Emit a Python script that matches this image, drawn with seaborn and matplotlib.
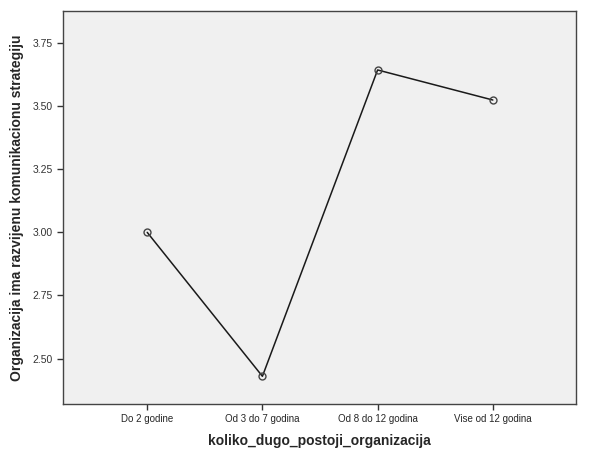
import pandas as pd
import matplotlib
matplotlib.use("Agg")
import matplotlib.pyplot as plt
import seaborn as sns

# Data
categories = ["Do 2 godine", "Od 3 do 7 godina", "Od 8 do 12 godina", "Vise od 12 godina"]
means = [3.00, 2.43, 3.643, 3.524]
y_ticks = [2.50, 2.75, 3.00, 3.25, 3.50, 3.75]

df = pd.DataFrame({"grupa": range(len(categories)), "mean": means})

sns.set_style("ticks")
plt.rcParams["font.family"] = ["Liberation Sans", "DejaVu Sans"]

fig = plt.figure(figsize=(6.01, 4.53), dpi=100)
ax = fig.add_axes([0.105, 0.108, 0.853, 0.868])
ax.set_facecolor("#f0f0f0")

sns.lineplot(data=df, x="grupa", y="mean", ax=ax, color="#1a1a1a", linewidth=1.1,
             marker="o", markersize=5, markerfacecolor="none",
             markeredgecolor="#444444", markeredgewidth=1.0)

ax.set_xlim(-0.73, 3.72)
ax.set_ylim(2.32, 3.877)
ax.set_xticks(range(len(categories)))
ax.set_xticklabels(categories, fontsize=7)
ax.set_yticks(y_ticks)
ax.set_yticklabels([f"{v:.2f}" for v in y_ticks], fontsize=7.5, color="#333333")
ax.tick_params(axis="both", length=4, width=1, color="#333333")
ax.tick_params(axis="x", pad=3)

for s in ax.spines.values():
    s.set_color("#444444")
    s.set_linewidth(1.0)

ax.set_xlabel("koliko_dugo_postoji_organizacija", fontsize=10, fontweight="bold", labelpad=7)
ax.set_ylabel("Organizacija ima razvijenu komunikacionu strategiju", fontsize=10,
              fontweight="bold", labelpad=6)

fig.savefig("out.png", dpi=100, facecolor="white")
